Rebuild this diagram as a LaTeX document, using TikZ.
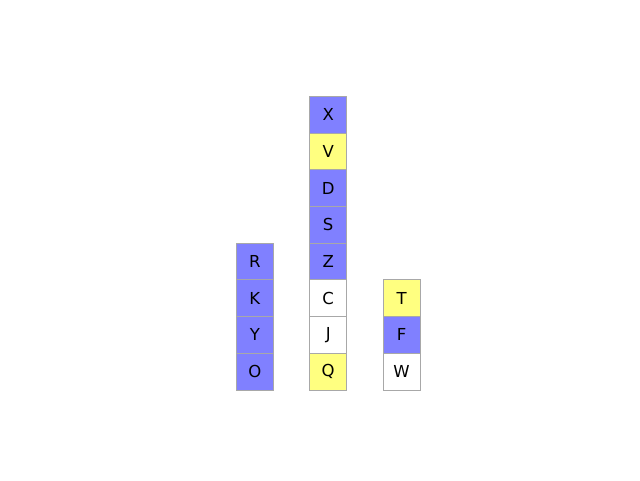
\documentclass[tikz,border=0pt]{standalone}
\usepackage{fontspec}
\setmainfont{DejaVu Sans}
\definecolor{bl}{HTML}{8080FF}
\definecolor{yl}{HTML}{FFFF80}
\definecolor{bd}{HTML}{A8A8A8}
\tikzset{
  cell/.style={draw=bd, line width=0.9pt, minimum width=36.7pt, minimum height=36.7pt, inner sep=0pt, font=\fontsize{16.5}{16.5}\selectfont, anchor=center},
  cb/.style={cell, fill=bl},
  cy/.style={cell, fill=yl},
  cw/.style={cell, fill=white}
}
\begin{document}
\begin{tikzpicture}[x=1pt,y=-1pt]
\useasboundingbox (0,0) rectangle (640,480);
% column 1
\node[cb] (O) at (254.8,371.65) {O};
\node[cb] (Y) at (254.8,334.95) {Y};
\node[cb] (K) at (254.8,298.25) {K};
\node[cb] (R) at (254.8,261.55) {R};
% column 2
\node[cy] (Q) at (328.2,371.65) {Q};
\node[cw] (J) at (328.2,334.95) {J};
\node[cw] (C) at (328.2,298.25) {C};
\node[cb] (Z) at (328.2,261.55) {Z};
\node[cb] (S) at (328.2,224.85) {S};
\node[cb] (D) at (328.2,188.15) {D};
\node[cy] (V) at (328.2,151.45) {V};
\node[cb] (X) at (328.2,114.75) {X};
% column 3
\node[cw] (W) at (401.6,371.65) {W};
\node[cb] (F) at (401.6,334.95) {F};
\node[cy] (T) at (401.6,298.25) {T};
\end{tikzpicture}
\end{document}
